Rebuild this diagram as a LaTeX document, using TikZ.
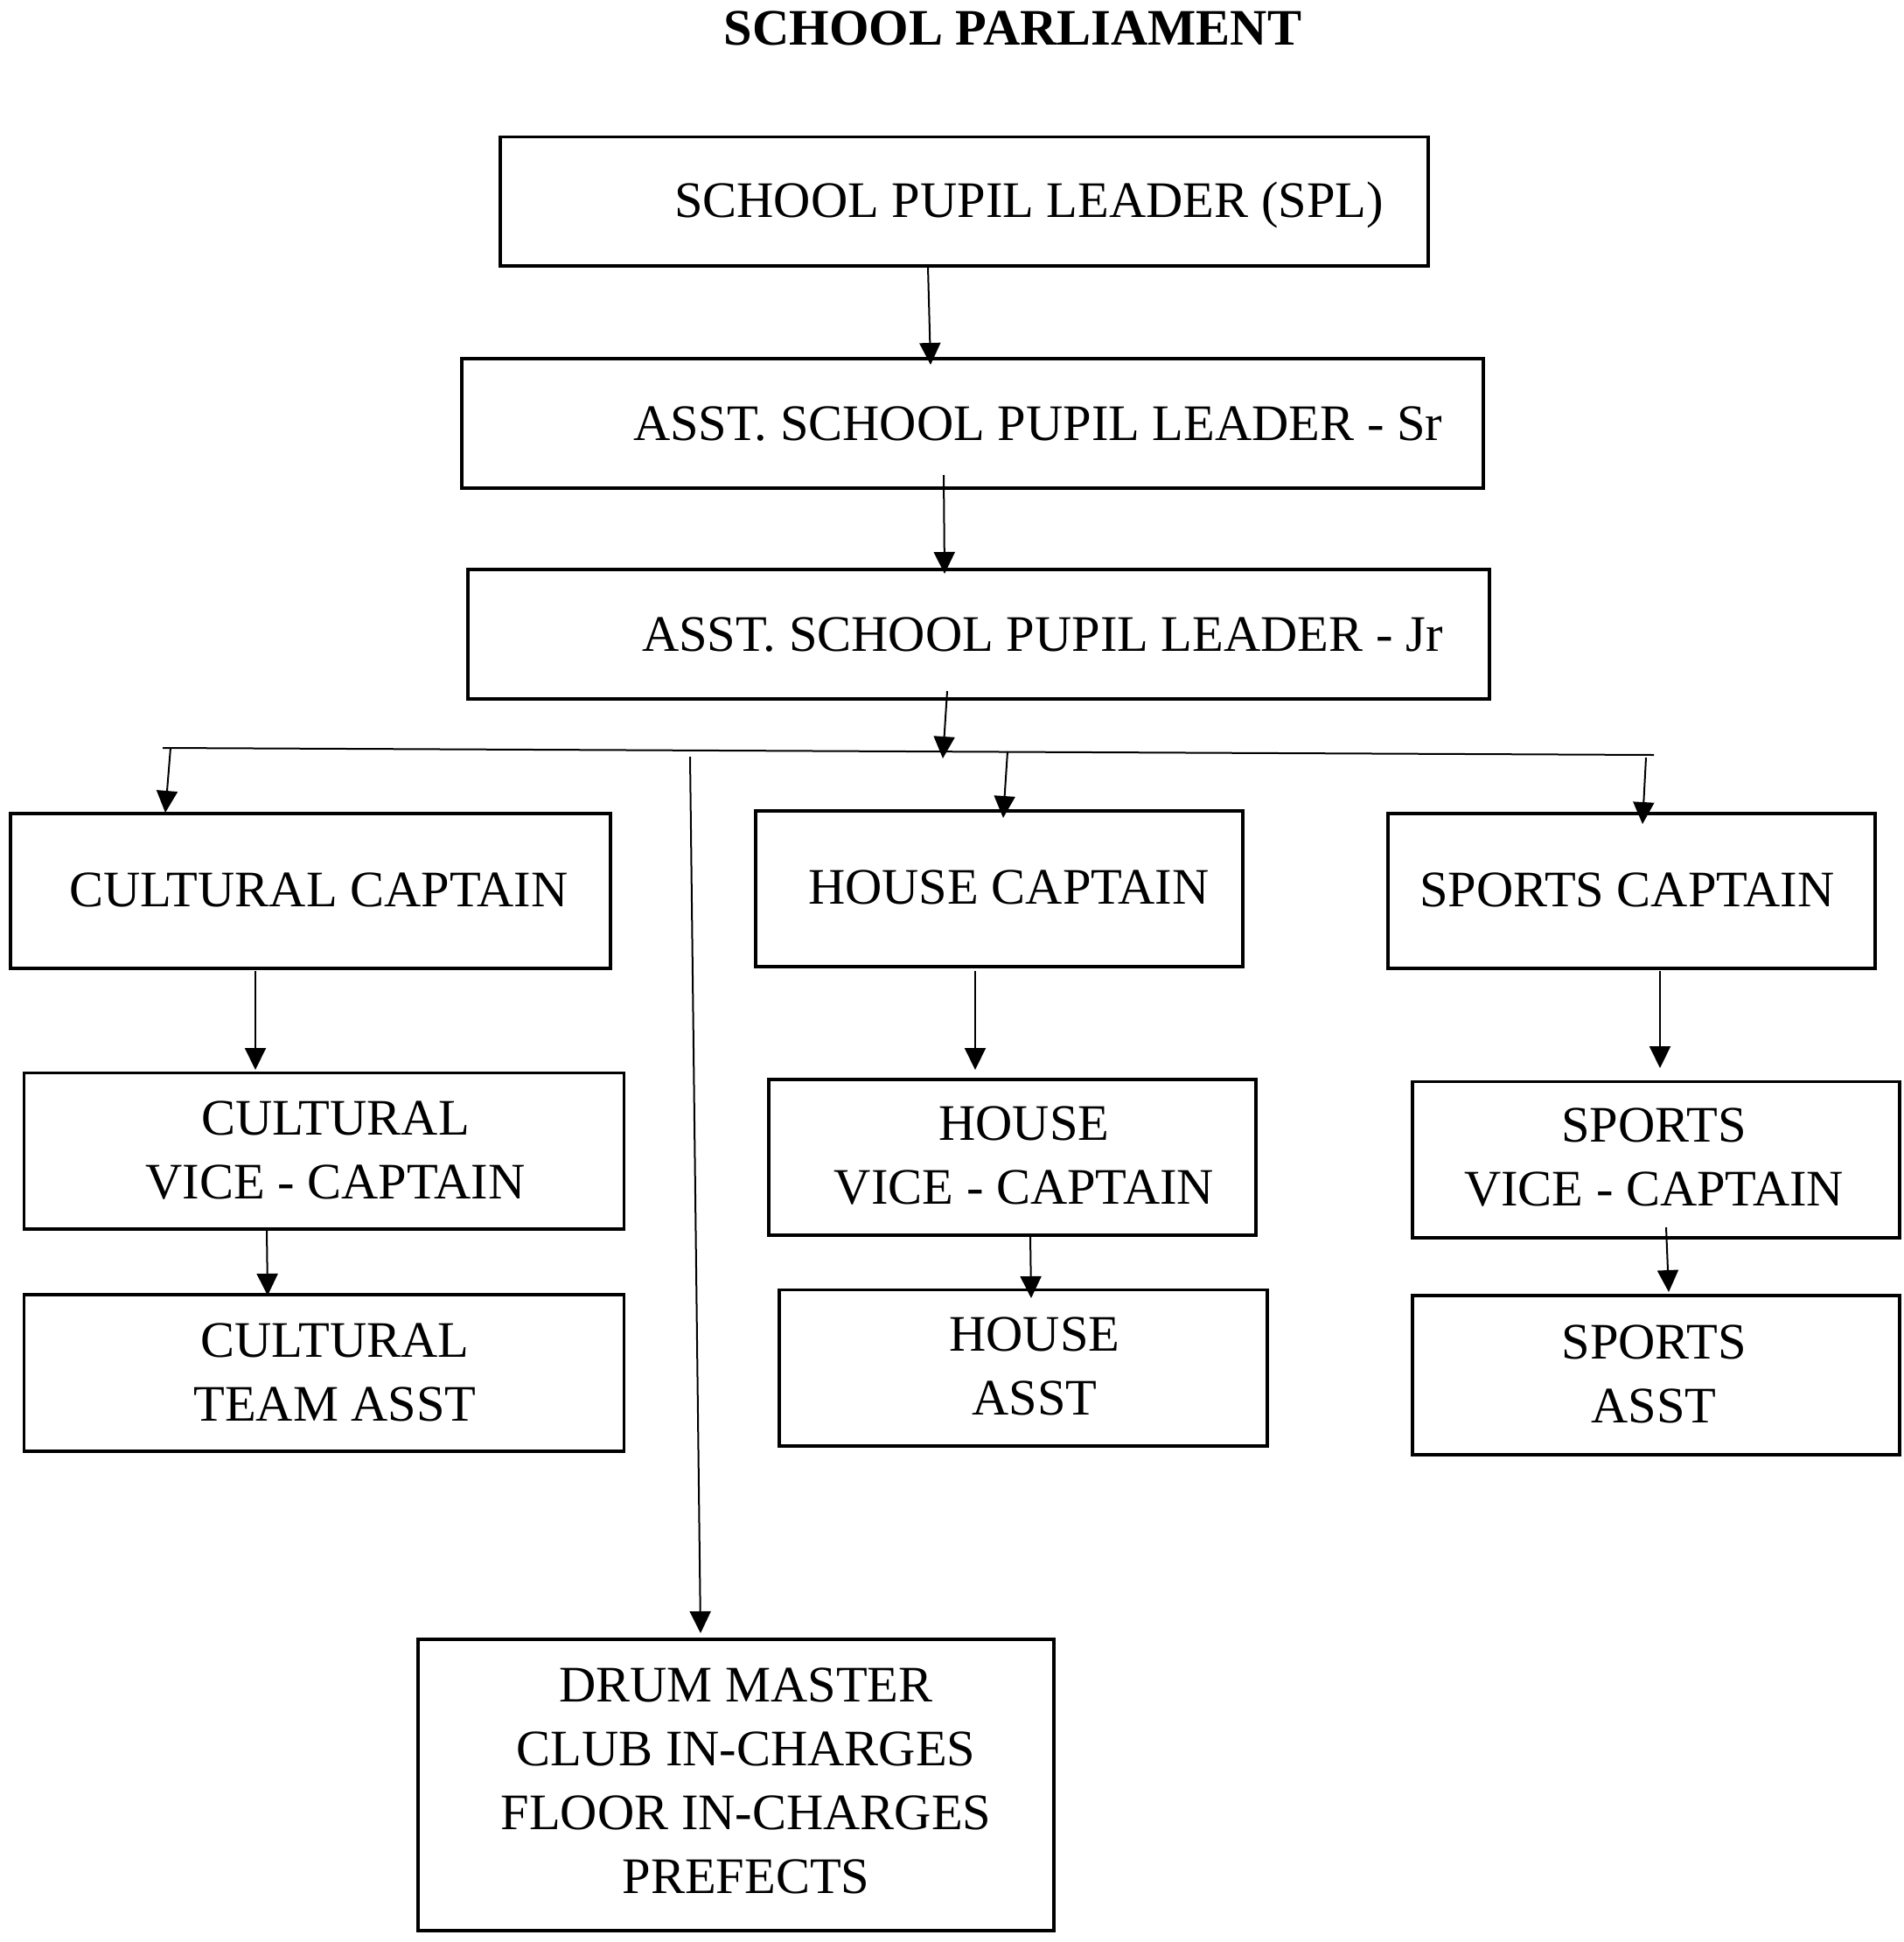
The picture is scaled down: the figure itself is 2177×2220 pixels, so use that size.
\documentclass[tikz,border=0pt]{standalone}
\usepackage{fontspec}
\setmainfont{Liberation Serif}
\usetikzlibrary{arrows.meta}
\begin{document}
\begin{tikzpicture}[x=1pt,y=-1pt,
  box/.style={draw, line width=3.5pt, inner sep=0pt, anchor=north west},
  lbl/.style={font=\fontsize{58.5}{73}\selectfont, inner sep=0pt},
  arr/.style={line width=2pt, -{Triangle[length=25pt,width=24pt]}},
  ln/.style={line width=2pt}]
\useasboundingbox (0,0) rectangle (2177,2220);
% title
\node[lbl, anchor=base, font=\fontsize{58.5}{73}\selectfont\bfseries] (title) at (1158,51) {SCHOOL PARLIAMENT};
% top boxes
\node[box, minimum width=1061, minimum height=147.5] (spl) at (570,154.5) {};
\node[lbl, anchor=base west] (tspl) at (771,248) {SCHOOL PUPIL LEADER (SPL)};
\node[box, minimum width=1168, minimum height=148] (sr) at (526,408) {};
\node[lbl, anchor=base west] (tsr) at (724,503) {ASST. SCHOOL PUPIL LEADER - Sr};
\node[box, minimum width=1168, minimum height=148] (jr) at (533,649) {};
\node[lbl, anchor=base west] (tjr) at (734,744) {ASST. SCHOOL PUPIL LEADER - Jr};
% captains
\node[box, minimum width=686, minimum height=177] (cc) at (10,928) {};
\node[lbl, anchor=base west] (tcc) at (79,1036) {CULTURAL CAPTAIN};
\node[box, minimum width=557, minimum height=178] (hc) at (862,925) {};
\node[lbl, anchor=base west] (thc) at (924,1033) {HOUSE CAPTAIN};
\node[box, minimum width=557, minimum height=177] (sc) at (1585,928) {};
\node[lbl, anchor=base west] (tsc) at (1623,1036) {SPORTS CAPTAIN};
% vice captains
\node[box, minimum width=686, minimum height=178.5] (cv) at (25.5,1224.5) {};
\node[lbl, align=center, anchor=north] (tcv) at (383.5,1259) {CULTURAL\\VICE - CAPTAIN};
\node[box, minimum width=557, minimum height=178] (hv) at (877,1232) {};
\node[lbl, align=center, anchor=north] (thv) at (1171,1264.5) {HOUSE\\VICE - CAPTAIN};
\node[box, minimum width=557, minimum height=178.5] (sv) at (1613,1234.5) {};
\node[lbl, align=center, anchor=north] (tsv) at (1891,1267) {SPORTS\\VICE - CAPTAIN};
% assistants
\node[box, minimum width=686, minimum height=179] (ca) at (25.5,1478) {};
\node[lbl, align=center, anchor=north] (tca) at (383,1512.5) {CULTURAL\\TEAM ASST};
\node[box, minimum width=558, minimum height=178.5] (ha) at (889,1472.5) {};
\node[lbl, align=center, anchor=north] (tha) at (1183,1505.5) {HOUSE\\ASST};
\node[box, minimum width=557, minimum height=182] (sa) at (1613,1479) {};
\node[lbl, align=center, anchor=north] (tsa) at (1891,1515) {SPORTS\\ASST};
% drum master box
\node[box, minimum width=727, minimum height=333] (dm) at (476,1872) {};
\node[lbl, align=center, anchor=north] (tdm) at (853,1906.5) {DRUM MASTER\\CLUB IN-CHARGES\\FLOOR IN-CHARGES\\PREFECTS};
% connector coordinates
\coordinate (a1s) at (1061,305);  \coordinate (a1e) at (1064,417);
\coordinate (a2s) at (1079,543);  \coordinate (a2e) at (1080,656);
\coordinate (a3s) at (1083,790);  \coordinate (a3e) at (1078,867);
\coordinate (busl) at (186,855);  \coordinate (busr) at (1891,863);
\coordinate (c1s) at (195,855);   \coordinate (c1e) at (189,929);
\coordinate (h1s) at (1152,859);  \coordinate (h1e) at (1147,935);
\coordinate (s1s) at (1882,866);  \coordinate (s1e) at (1878,942);
\coordinate (d1s) at (789,865);   \coordinate (d1e) at (801,1867);
\coordinate (c2s) at (292,1110);  \coordinate (c2e) at (292,1223);
\coordinate (h2s) at (1115,1110); \coordinate (h2e) at (1115,1223);
\coordinate (s2s) at (1898,1110); \coordinate (s2e) at (1898,1221);
\coordinate (c3s) at (305,1406);  \coordinate (c3e) at (306,1481);
\coordinate (h3s) at (1178,1412); \coordinate (h3e) at (1179,1484);
\coordinate (s3s) at (1905,1403); \coordinate (s3e) at (1908,1477);
% connectors
\draw[arr] (a1s) -- (a1e);
\draw[arr] (a2s) -- (a2e);
\draw[arr] (a3s) -- (a3e);
\draw[ln] (busl) -- (busr);
\draw[arr] (c1s) -- (c1e);
\draw[arr] (h1s) -- (h1e);
\draw[arr] (s1s) -- (s1e);
\draw[arr] (d1s) -- (d1e);
\draw[arr] (c2s) -- (c2e);
\draw[arr] (h2s) -- (h2e);
\draw[arr] (s2s) -- (s2e);
\draw[arr] (c3s) -- (c3e);
\draw[arr] (h3s) -- (h3e);
\draw[arr] (s3s) -- (s3e);
\end{tikzpicture}
\end{document}
